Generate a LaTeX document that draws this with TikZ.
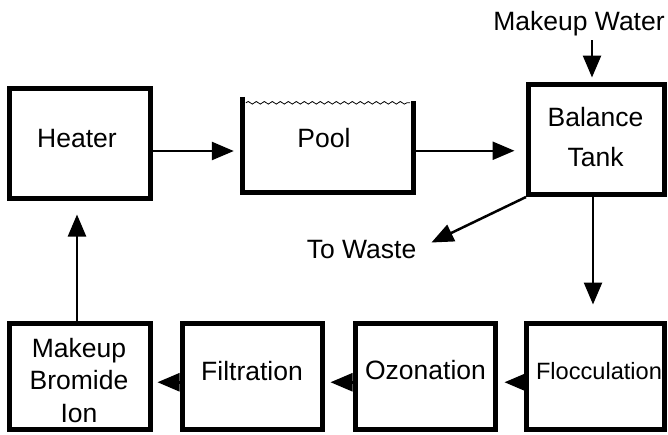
\documentclass[tikz,border=0pt]{standalone}
\usepackage{fontspec}
\setmainfont{Liberation Sans}
\usetikzlibrary{arrows.meta,decorations.pathmorphing,calc}
\begin{document}
\begin{tikzpicture}[x=1pt,y=-1pt,
  box/.style={draw,line width=5pt,inner sep=0pt},
  txt/.style={inner sep=0pt,anchor=base,font=\fontsize{26.5}{32.5}\selectfont},
  arr/.style={line width=2.5pt,-{Triangle[length=22pt,width=18pt]}},
  wall/.style={line width=5pt},
  wave/.style={line width=0.8pt,decorate,decoration={snake,amplitude=1.3pt,segment length=8pt}}]
\useasboundingbox (0,0) rectangle (668,434);
% boxes
\node[box,minimum width=141pt,minimum height=110pt] (heater) at (80,143.5) {};
\node[inner sep=0pt,minimum width=170pt,minimum height=95.5pt] (pool) at (328,144.75) {};
\node[box,minimum width=136pt,minimum height=110pt] (balance) at (596.5,139.5) {};
\node[box,minimum width=141pt,minimum height=106.5pt] (mbi) at (80,376.25) {};
\node[box,minimum width=140pt,minimum height=106.5pt] (filt) at (252.5,376.25) {};
\node[box,minimum width=140pt,minimum height=106.5pt] (ozon) at (425.5,376.25) {};
\node[box,minimum width=138pt,minimum height=106.5pt] (flocc) at (595.5,376.25) {};
% pool walls and water surface
\draw[wall] (pool.north west) -- (pool.south west) -- (pool.south east) -- ([yshift=-4pt]pool.north east);
\draw[wave] ([xshift=3pt,yshift=-6pt]pool.north west) -- ([xshift=-3pt,yshift=-6pt]pool.north east);
% texts
\node[txt] (heatert) at (77,147) {Heater};
\node[txt] (poolt) at (324,147) {Pool};
\node[txt,anchor=north,align=center] (balancet) at (595.5,107) {Balance\\[8pt]Tank};
\node[txt,anchor=north,align=center] (mbit) at (79,338) {Makeup\\Bromide\\Ion};
\node[txt] (filtt) at (252,380) {Filtration};
\node[txt] (ozont) at (425.5,379) {Ozonation};
\node[txt,font=\fontsize{23.6}{28}\selectfont] (flocct) at (599,379) {Flocculation};
\node[txt] (mw) at (579,30) {Makeup Water};
\node[txt] (tw) at (361.5,258) {To Waste};
% connectors
\draw[arr,shorten >=9pt] ([yshift=-7.5pt]heater.east) -- ([yshift=-7.5pt]heater.east -| pool.west);
\draw[arr,shorten >=11.5pt] ([yshift=-6pt]pool.east) -- ([yshift=-6pt]pool.east -| balance.west);
\draw[arr,shorten >=4.5pt] ([xshift=13pt,yshift=-4.5pt]mw.south) -- ([xshift=13pt]mw.south |- balance.north);
\draw[arr,shorten >=16pt] ([xshift=-3.5pt]balance.south) -- ([xshift=-3.5pt]balance.south |- flocc.north);
\draw[arr] (balance.south west) -- ([xshift=15pt,yshift=6.5pt]tw.east);
\draw[arr,shorten >=6.5pt] ([yshift=-6pt]flocc.west) -- ([yshift=-6pt]flocc.west -| ozon.east);
\draw[arr,shorten >=5.5pt] ([yshift=-6pt]ozon.west) -- ([yshift=-6pt]ozon.west -| filt.east);
\draw[arr,shorten >=4.5pt] ([yshift=-6pt]filt.west) -- ([yshift=-6pt]filt.west -| mbi.east);
\draw[arr,shorten >=13.5pt] ([xshift=-3pt]mbi.north) -- ([xshift=-3pt]mbi.north |- heater.south);
\end{tikzpicture}
\end{document}
